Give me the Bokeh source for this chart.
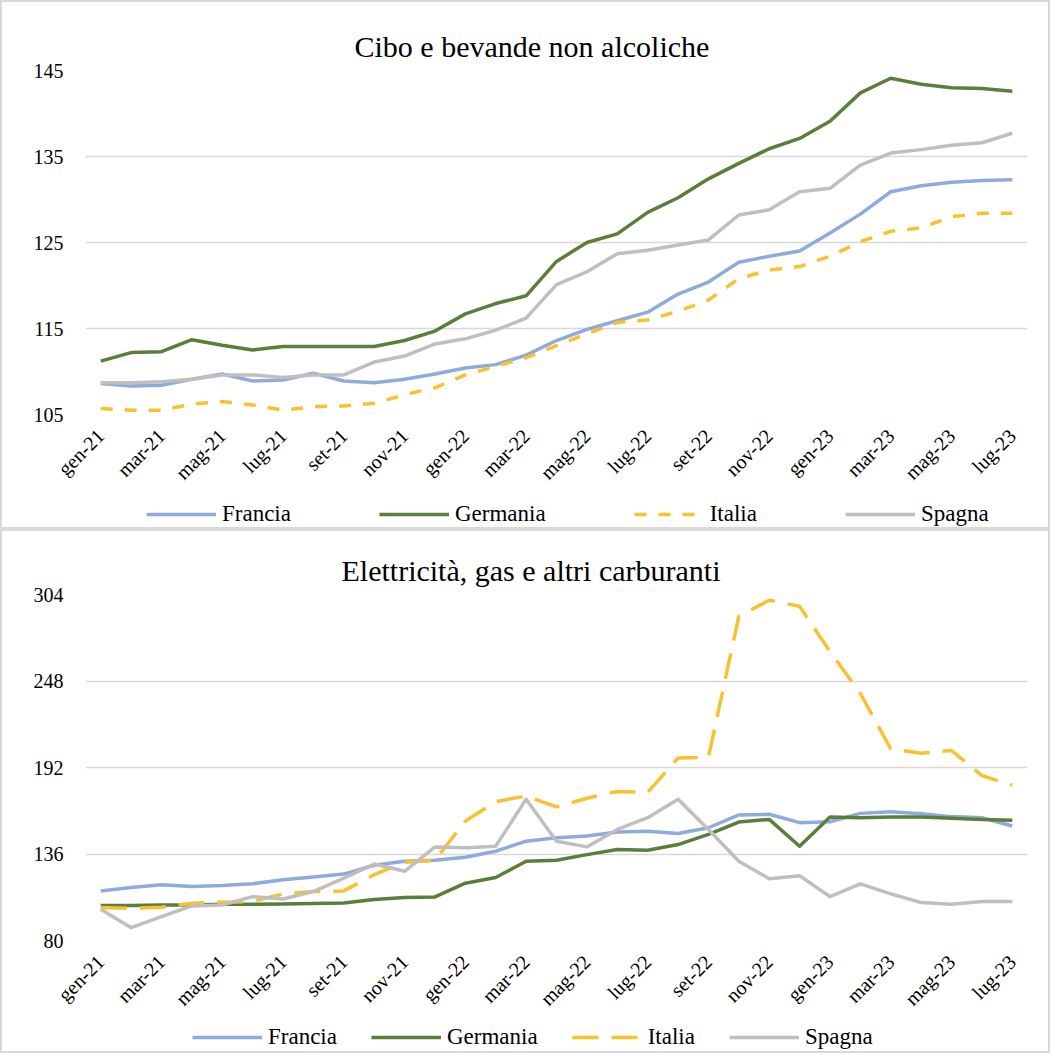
import math
from bokeh.plotting import figure
from bokeh.layouts import column
from bokeh.models import FixedTicker, Legend, LegendItem
from bokeh.embed import file_html
from bokeh.resources import INLINE

months = ["gen-21", "feb-21", "mar-21", "apr-21", "mag-21", "giu-21", "lug-21", "ago-21",
          "set-21", "ott-21", "nov-21", "dic-21", "gen-22", "feb-22", "mar-22", "apr-22",
          "mag-22", "giu-22", "lug-22", "ago-22", "set-22", "ott-22", "nov-22", "dic-22",
          "gen-23", "feb-23", "mar-23", "apr-23", "mag-23", "giu-23", "lug-23"]
countries = ["Francia", "Germania", "Italia", "Spagna"]

cibo_francia = [108.6, 108.3, 108.4, 109.1, 109.7, 108.9, 109.0, 109.8, 108.9, 108.7, 109.1,
                109.7, 110.4, 110.8, 111.9, 113.6, 114.9, 115.9, 116.9, 119.0, 120.4, 122.7,
                123.4, 124.0, 126.1, 128.3, 130.9, 131.6, 132.0, 132.2, 132.3]
cibo_germania = [111.2, 112.2, 112.3, 113.7, 113.05, 112.5, 112.9, 112.9, 112.9, 112.9, 113.6,
                 114.7, 116.7, 117.9, 118.8, 122.8, 125.0, 126.0, 128.5, 130.2, 132.4, 134.2,
                 135.9, 137.1, 139.1, 142.4, 144.1, 143.4, 143.0, 142.9, 142.6]
cibo_italia = [105.7, 105.5, 105.5, 106.2, 106.5, 106.1, 105.5, 105.9, 106.0, 106.3, 107.3,
               108.1, 109.6, 110.6, 111.6, 113.0, 114.4, 115.7, 116.0, 117.0, 118.3, 120.8,
               121.8, 122.2, 123.4, 125.1, 126.3, 126.7, 128.0, 128.4, 128.4]
cibo_spagna = [108.7, 108.7, 108.8, 109.1, 109.6, 109.6, 109.3, 109.6, 109.6, 111.1, 111.8,
               113.2, 113.8, 114.8, 116.2, 120.1, 121.6, 123.7, 124.1, 124.7, 125.3, 128.2,
               128.8, 130.9, 131.3, 134.0, 135.4, 135.8, 136.3, 136.6, 137.7]

energia_francia = [112.1, 114.3, 116.1, 115.0, 115.6, 116.7, 119.3, 121.1, 123.0, 128.7, 131.3,
                   131.9, 133.9, 137.8, 144.3, 146.5, 147.6, 150.2, 150.8, 149.3, 153.0, 161.3,
                   161.7, 156.3, 156.9, 162.3, 163.4, 162.1, 160.2, 159.5, 154.1]
energia_germania = [102.6, 102.6, 103.0, 103.0, 103.5, 103.5, 103.7, 103.9, 104.3, 106.5, 107.8,
                    108.2, 117.1, 120.8, 131.3, 131.9, 135.6, 138.9, 138.4, 142.1, 148.7, 156.7,
                    158.4, 141.0, 159.9, 159.5, 159.9, 159.9, 159.1, 158.4, 157.8]
energia_italia = [101.3, 100.9, 101.5, 104.1, 104.8, 105.2, 110.2, 111.7, 112.1, 122.6, 130.6,
                  131.9, 157.3, 169.9, 173.6, 166.5, 172.1, 176.5, 175.8, 198.2, 198.6, 289.9,
                  300.3, 296.4, 267.1, 239.9, 204.1, 201.2, 203.0, 186.7, 180.6]
energia_spagna = [100.2, 88.3, 95.4, 102.4, 103.0, 108.4, 106.9, 111.7, 120.4, 129.5, 124.8,
                  140.6, 140.0, 141.0, 171.5, 144.3, 140.6, 151.9, 159.5, 171.5, 151.9, 131.3,
                  120.0, 121.9, 108.4, 116.7, 110.2, 104.6, 103.5, 105.2, 105.2]

cibo_ticks = [105, 115, 125, 135, 145]
energia_ticks = [80, 136, 192, 248, 304]

colors = ["#8FAADC", "#5B7F3A", "#F9C12E", "#BFBFBF"]
FONT = "Liberation Serif"
BORDER = "2px solid #d9d9d9"
NAN = float("nan")


def make_chart(title, series, yticks, height, top, bottom, dash, title_offset):
    x = list(range(len(months)))
    p = figure(width=1050, height=height, output_backend="svg", toolbar_location=None,
               x_range=(-0.5, len(months) - 0.5), y_range=(yticks[0], yticks[-1]),
               min_border_left=83, min_border_right=25, min_border_top=top,
               min_border_bottom=bottom, outline_line_color=None)
    p.styles = {"border-top": BORDER, "border-left": BORDER, "border-right": BORDER}
    p.title.text = title
    p.title.text_font = FONT
    p.title.text_font_size = "30px"
    p.title.text_font_style = "normal"
    p.title.text_color = "#000000"
    p.title.align = "left"
    p.title.offset = title_offset
    p.title.standoff = 16

    for name, vals, col in zip(countries, series, colors):
        if name == "Italia":
            p.line(x, vals, line_color=col, line_width=3.5, line_dash=dash)
        else:
            p.line(x, vals, line_color=col, line_width=3.5, line_join="round")

    p.xaxis.ticker = FixedTicker(ticks=x[::2])
    p.xaxis.major_label_overrides = {i: months[i] for i in x}
    p.xaxis.major_label_orientation = math.pi / 4
    p.yaxis.ticker = FixedTicker(ticks=yticks)
    for ax in (p.xaxis, p.yaxis):
        ax.axis_line_color = None
        ax.major_tick_line_color = None
        ax.minor_tick_line_color = None
        ax.major_label_text_font = FONT
        ax.major_label_text_font_size = "20px"
        ax.major_label_text_color = "#000000"
    p.yaxis.major_label_standoff = 16
    p.xaxis.major_label_standoff = 12
    p.xgrid.grid_line_color = None
    p.ygrid.grid_line_color = "#d9d9d9"
    p.ygrid.grid_line_width = 1.5
    return p


def make_legend(height, dash, leg_x, leg_y, leg_spacing):
    q = figure(width=1050, height=height, output_backend="svg", toolbar_location=None,
               x_range=(0, 1), y_range=(0, 1), min_border=0, outline_line_color=None)
    q.styles = {"border-bottom": BORDER, "border-left": BORDER, "border-right": BORDER}
    q.axis.visible = False
    q.grid.visible = False
    items = []
    for name, col in zip(countries, colors):
        if name == "Italia":
            r = q.line([NAN], [NAN], line_color=col, line_width=3.5, line_dash=dash)
        else:
            r = q.line([NAN], [NAN], line_color=col, line_width=3.5)
        items.append(LegendItem(label=name, renderers=[r]))
    leg = Legend(items=items, orientation="horizontal", location=(leg_x, leg_y),
                 glyph_width=70, glyph_height=20, label_height=20, label_standoff=6,
                 spacing=leg_spacing, padding=0, margin=0, border_line_color=None,
                 background_fill_alpha=0, label_text_font=FONT, label_text_font_size="23px",
                 label_text_color="#000000")
    q.add_layout(leg, "center")
    return q


p1 = make_chart("Cibo e bevande non alcoliche",
                [cibo_francia, cibo_germania, cibo_italia, cibo_spagna],
                cibo_ticks, 492, 68, 74, "12 12", 269)
l1 = make_legend(37, "12 12", 61, 2, 88)
p2 = make_chart("Elettricità, gas e altri carburanti",
                [energia_francia, energia_germania, energia_italia, energia_spagna],
                energia_ticks, 489, 63, 75, "26 13", 256)
l2 = make_legend(35, "26 13", 107, 3, 34)

layout = column(p1, l1, p2, l2)
open("out.html", "w").write(file_html(layout, INLINE))
